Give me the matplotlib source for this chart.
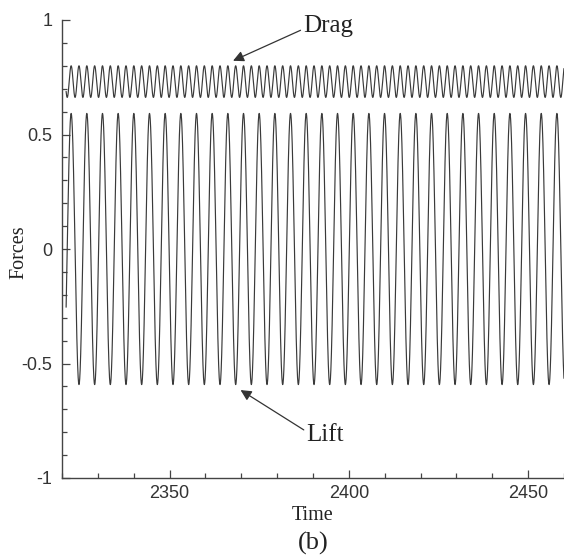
import numpy as np
import matplotlib
matplotlib.use("Agg")
import matplotlib.pyplot as plt
from matplotlib.ticker import MultipleLocator

# ---- values ----
t_start = 2321.15         # first sample of the record
t_end = 2460.0            # last sample
lift_period = 4.37        # shedding period (31 cycles between x~71 and x~556)
lift_first_peak = 2322.55 # time of first lift maximum
lift_amplitude = 0.592    # lift oscillates about zero
drag_mean = 0.731
drag_amplitude = 0.069    # drag oscillates at twice the lift frequency
x_ticks = [2350, 2400, 2450]
y_ticks = [-1, -0.5, 0, 0.5, 1]
y_tick_labels = ["-1", "-0.5", "0", "0.5", "1"]

t = np.arange(t_start, t_end, 0.01)
phase = 2 * np.pi * (t - lift_first_peak) / lift_period
lift = lift_amplitude * np.cos(phase)
drag = drag_mean + drag_amplitude * np.cos(2 * phase)

fig = plt.figure(figsize=(5.64, 5.58), dpi=100)
ax = fig.add_axes([62 / 564, 80 / 558, 502 / 564, 458 / 558])

lc = "#3a3a3a"
ax.plot(t, lift, color=lc, lw=0.85)
ax.plot(t, drag, color=lc, lw=0.85)

ax.set_xlim(2320, 2460)
ax.set_ylim(-1, 1)
ax.set_xticks(x_ticks)
ax.set_yticks(y_ticks)
ax.set_yticklabels(y_tick_labels)
ax.xaxis.set_minor_locator(MultipleLocator(10))
ax.yaxis.set_minor_locator(MultipleLocator(0.1))

for s in ["top", "right"]:
    ax.spines[s].set_visible(False)
for s in ["left", "bottom"]:
    ax.spines[s].set_color("#444444")
    ax.spines[s].set_linewidth(1.0)

ax.tick_params(which="both", direction="in", color="#444444", width=0.9)
ax.tick_params(which="major", length=6)
ax.tick_params(which="minor", length=3.5)
ax.tick_params(axis="y", which="major", pad=7)
ax.tick_params(axis="x", which="major", pad=5)
for lab in ax.get_xticklabels() + ax.get_yticklabels():
    lab.set_fontfamily("Liberation Sans")
    lab.set_fontsize(13)
    lab.set_color("#333333")

serif = "Liberation Serif"
fig.text(313 / 564, 1 - 515 / 558, "Time", fontfamily=serif, fontsize=14.5,
         ha="center", va="center", color="#222222")
fig.text(19 / 564, 1 - 252 / 558, "Forces", fontfamily=serif, fontsize=14.5,
         ha="center", va="center", rotation=90, color="#222222")
fig.text(313 / 564, 1 - 543 / 558, "(b)", fontfamily=serif, fontsize=19,
         ha="center", va="center", color="#222222")

ax.annotate("Drag", xy=(2367.7, 0.822), xytext=(2387.3, 0.975),
            fontfamily=serif, fontsize=18, color="#222222",
            ha="left", va="center",
            arrowprops=dict(arrowstyle="-|>", color="#333333", lw=0.9,
                            mutation_scale=16, shrinkA=0, shrinkB=0,
                            relpos=(0, 0.35)))
ax.annotate("Lift", xy=(2369.8, -0.616), xytext=(2388.2, -0.812),
            fontfamily=serif, fontsize=18, color="#222222",
            ha="left", va="center",
            arrowprops=dict(arrowstyle="-|>", color="#333333", lw=0.9,
                            mutation_scale=16, shrinkA=0, shrinkB=0,
                            relpos=(0, 0.65)))

fig.savefig("out.png", dpi=100)
